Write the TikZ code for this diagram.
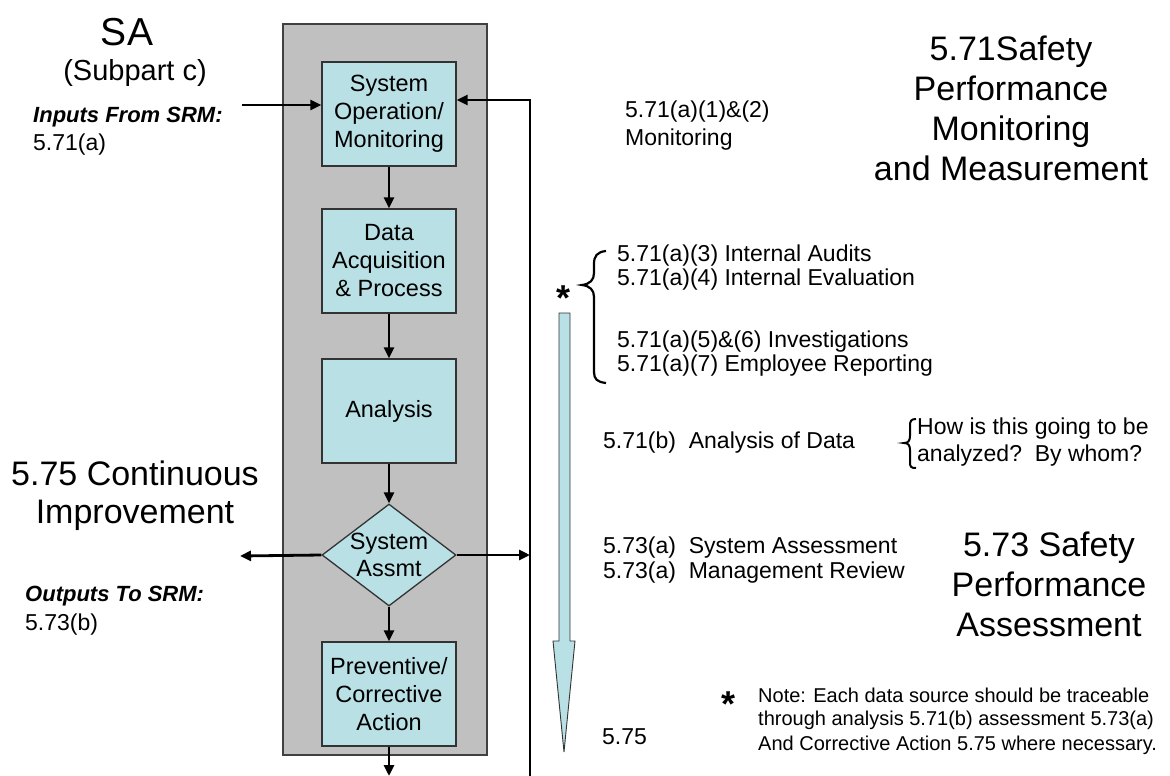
\documentclass[tikz,border=0pt]{standalone}
\usepackage{fontspec}
\setmainfont{Liberation Sans}
\usetikzlibrary{shapes.geometric,arrows.meta}
\definecolor{boxblue}{RGB}{185,224,228}
\definecolor{panelgray}{RGB}{192,192,192}
\begin{document}
\begin{tikzpicture}[x=1pt,y=-1pt,
  box/.style={draw=black!80, line width=1.3pt, fill=boxblue, minimum width=134pt, minimum height=104pt, inner sep=0pt, align=center, font=\fontsize{23.5}{28}\selectfont},
  arr/.style={line width=2.8pt, -{Triangle[length=11pt,width=10pt]}},
  txt/.style={inner sep=0pt, anchor=west, font=\fontsize{23}{23}\selectfont},
  bitxt/.style={inner sep=0pt, anchor=west, font=\fontsize{22}{22}\selectfont\bfseries\itshape},
  head/.style={inner sep=0pt, align=center, font=\fontsize{34}{40}\selectfont},
  note/.style={inner sep=0pt, anchor=west, font=\fontsize{20}{20}\selectfont}]
\useasboundingbox (0,0) rectangle (1170,776);
% panel
\node[draw=black!75, line width=1.2pt, fill=panelgray, minimum width=204pt, minimum height=731pt, inner sep=0pt] (panel) at (385,389.5) {};
% flow boxes
\node[box] (b1) at (389,114) {System\\Operation/\\Monitoring};
\node[box] (b2) at (389,261) {Data\\Acquisition\\\& Process};
\node[box] (b3) at (389,411) {Analysis};
\node[diamond, draw=black!80, line width=1.3pt, fill=boxblue, minimum width=134pt, minimum height=102pt, inner sep=0pt,
  label={[align=center, inner sep=0pt, font=\fontsize{23.5}{27}\selectfont]center:System\\Assmt}] (d) at (389,555) {};
\node[box] (b4) at (389,694) {Preventive/\\Corrective\\Action};
% connectors
\draw[arr] (b1) -- (b2);
\draw[arr] (b2) -- (b3);
\draw[arr] (b3) -- (d);
\draw[arr] (d) -- (b4);
\coordinate (outB) at (389,776);
\draw[arr] (b4) -- (outB);
\coordinate (inA) at (242,105);
\draw[arr] (inA) -- (inA -| b1.west);
\coordinate (fbB) at (530,776);
\coordinate (fbT) at (530,100);
\draw[arr] (fbB) -- (fbT) -- (fbT -| b1.east);
\coordinate (ciL) at (240,556);
\draw[arr] (d.west) -- (ciL);
\draw[arr] (d.east) -- (d.east -| fbT);
% left texts
\node[inner sep=0pt, font=\fontsize{39}{39}\selectfont] (sa) at (127,32) {SA};
\node[inner sep=0pt, font=\fontsize{29}{29}\selectfont] (sub) at (135,73) {(Subpart c)};
\node[bitxt] (inp) at (33,117) {Inputs From SRM:};
\node[txt] (inpv) at (33,145) {5.71(a)};
\node[head, font=\fontsize{34}{38}\selectfont] (ci) at (135,496) {5.75 Continuous\\Improvement};
\node[bitxt] (outp) at (25,596) {Outputs To SRM:};
\node[txt] (outv) at (25,625) {5.73(b)};
% right texts
\node[txt, align=left, font=\fontsize{23}{28}\selectfont] (mon) at (625,126) {5.71(a)(1)\&(2)\\Monitoring};
\node[head] (h1) at (1011,108) {5.71Safety\\Performance\\Monitoring\\and Measurement};
\node[txt] (l1) at (617,256) {5.71(a)(3) Internal Audits};
\node[txt] (l2) at (617,280) {5.71(a)(4) Internal Evaluation};
\node[txt] (l3) at (617,342) {5.71(a)(5)\&(6) Investigations};
\node[txt] (l4) at (617,366) {5.71(a)(7) Employee Reporting};
\draw[line width=2.2pt] (606,251) .. controls (597,252) and (594,256) .. (594,264) -- (594,273)
  .. controls (594,280) and (590,284) .. (582,285) .. controls (590,286) and (594,290) .. (594,297)
  -- (594,372) .. controls (594,379) and (597,382) .. (606,383);
\node[inner sep=0pt, font=\fontsize{36}{36}\selectfont\bfseries] (star1) at (563,298) {*};
\draw[draw=black!80, line width=0.9pt, fill=boxblue] (559,313) -- (570,313) -- (570,641) -- (575,641) -- (564,752) -- (553,641) -- (559,641) -- cycle;
\node[txt] (an) at (603,443) {5.71(b)\ \ Analysis of Data};
\draw[line width=2pt] (916,419) .. controls (911,419) and (910,421) .. (910,426) -- (910,436)
  .. controls (910,441) and (908,443) .. (904,443) .. controls (908,443) and (910,445) .. (910,450)
  -- (910,462) .. controls (910,467) and (911,468) .. (916,468);
\node[txt] (q1) at (917,429) {How is this going to be};
\node[txt] (q2) at (917,456) {analyzed?\ \ By whom?};
\node[txt] (s1) at (603,548) {5.73(a)\ \ System Assessment};
\node[txt] (s2) at (603,573) {5.73(a)\ \ Management Review};
\node[head] (h2) at (1049,584) {5.73 Safety\\Performance\\Assessment};
\node[txt] (c75) at (602,737) {5.75};
\node[inner sep=0pt, font=\fontsize{36}{36}\selectfont\bfseries] (star2) at (728,704) {*};
\node[note] (n1) at (758,695) {Note: Each data source should be traceable};
\node[note] (n2) at (758,720) {through analysis 5.71(b) assessment 5.73(a)};
\node[note] (n3) at (758,745) {And Corrective Action 5.75 where necessary.};
\end{tikzpicture}
\end{document}
